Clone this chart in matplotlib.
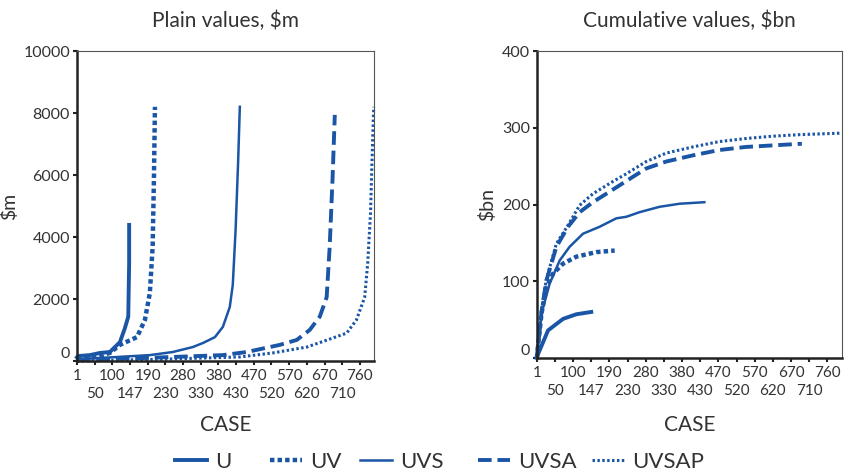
import numpy as np
import matplotlib
matplotlib.use("Agg")
import matplotlib.pyplot as plt
from matplotlib.lines import Line2D

plt.rcParams['font.family'] = ['Lato', 'DejaVu Sans']

BLUE = '#1a56a5'
TEXT = '#333333'

# x positions are in tick-slot units (0 = case 1, 1 = case 50, ...)
case_labels = ['1', '50', '100', '147', '190', '230', '280', '330', '380',
               '430', '470', '520', '570', '620', '670', '710', '760']

# Plain values, $m
u_plain_x = [0, 0.07, 0.73, 1.3, 1.86, 2.43, 2.71, 2.9, 2.95, 2.95]
u_plain_y = [120, 160, 190, 260, 290, 610, 1060, 1430, 3150, 4390]
uv_plain_x = [0, 1.0, 1.86, 2.43, 3.39, 3.84, 4.12, 4.28, 4.35, 4.41]
uv_plain_y = [60, 120, 260, 520, 770, 1320, 2190, 3690, 5840, 8200]
uvs_plain_x = [0, 2.0, 4.12, 5.42, 6.55, 7.12, 7.8, 8.25, 8.64, 8.81, 8.97, 9.11, 9.21]
uvs_plain_y = [60, 120, 190, 290, 450, 580, 770, 1100, 1740, 2450, 4230, 6380, 8200]
uvsa_plain_x = [0, 3.0, 5.42, 8.25, 9.6, 11.47, 12.43, 13.16, 13.73, 14.12, 14.29, 14.45, 14.58]
uvsa_plain_y = [30, 80, 130, 190, 290, 520, 680, 1000, 1430, 2060, 3680, 5840, 7940]
uvsap_plain_x = [0, 5.0, 9.21, 11.07, 13.0, 14.46, 15.25, 15.8, 16.27, 16.44, 16.6, 16.68, 16.78]
uvsap_plain_y = [0, 60, 130, 260, 450, 740, 900, 1320, 2060, 3150, 4770, 6380, 8200]

# Cumulative values, $bn
u_cum_x = [0, 0.07, 0.62, 1.45, 2.18, 3.0]
u_cum_y = [0, 5, 36, 51, 57, 60]
uv_cum_x = [0, 0.26, 0.53, 0.9, 1.45, 2.18, 3.28, 4.29]
uv_cum_y = [0, 58, 92, 110, 123, 132, 138, 140]
uvs_cum_x = [0, 0.26, 0.71, 1.26, 1.81, 2.55, 3.46, 4.38, 4.93, 5.66, 6.76, 7.86, 9.23]
uvs_cum_y = [0, 58, 97, 127, 145, 162, 171, 182, 184, 190, 197, 201, 203]
uvsa_cum_x = [0, 0.26, 0.53, 1.08, 1.72, 2.36, 3.09, 3.83, 4.56, 5.29, 6.03, 7.13, 8.59,
              10.05, 11.52, 12.98, 14.45, 14.6]
uvsa_cum_y = [0, 60, 101, 145, 171, 190, 203, 214, 225, 236, 247, 256, 264,
              271, 275, 277, 279, 279]
uvsap_cum_x = [0, 0.26, 0.53, 1.08, 1.72, 2.36, 3.09, 4.19, 4.93, 6.03, 7.13, 8.59,
               10.05, 11.52, 12.98, 14.45, 16.78]
uvsap_cum_y = [0, 62, 103, 149, 173, 199, 214, 230, 240, 256, 267, 275,
               282, 286, 289, 291, 293]

series_names = ['U', 'UV', 'UVS', 'UVSA', 'UVSAP']
styles = {
    'U': dict(lw=2.8, ls='-'),
    'UV': dict(lw=3.2, ls=(0, (1.0, 0.7))),
    'UVS': dict(lw=1.8, ls='-'),
    'UVSA': dict(lw=2.8, ls=(0, (3.5, 1.5))),
    'UVSAP': dict(lw=2.2, ls=(0, (0.8, 0.8))),
}

fig = plt.figure(figsize=(8.44, 4.75), dpi=100)
ax1 = fig.add_axes([0.0912, 0.24, 0.352, 0.6526])
ax2 = fig.add_axes([0.636, 0.2463, 0.3614, 0.6463])

plain = [(u_plain_x, u_plain_y), (uv_plain_x, uv_plain_y), (uvs_plain_x, uvs_plain_y),
         (uvsa_plain_x, uvsa_plain_y), (uvsap_plain_x, uvsap_plain_y)]
cum = [(u_cum_x, u_cum_y), (uv_cum_x, uv_cum_y), (uvs_cum_x, uvs_cum_y),
       (uvsa_cum_x, uvsa_cum_y), (uvsap_cum_x, uvsap_cum_y)]

for name, (x, y) in zip(series_names, plain):
    ax1.plot(x, y, color=BLUE, clip_on=False, **styles[name])
for name, (x, y) in zip(series_names, cum):
    ax2.plot(x, y, color=BLUE, clip_on=False, **styles[name])

top_pos = list(range(0, len(case_labels), 2))
bot_pos = list(range(1, len(case_labels), 2))

for ax, title, ylab, ylim, yticks, xpad in [
        (ax1, 'Plain values, $m', '$m', 10000, np.arange(0, 10001, 2000), 10),
        (ax2, 'Cumulative values, $bn', '$bn', 400, np.arange(0, 401, 100), 12)]:
    ax.set_xlim(0, 16.8)
    ax.set_ylim(0, ylim)
    # staggered category labels: even slots on the first row, odd slots below
    ax.set_xticks(top_pos)
    ax.set_xticklabels([case_labels[i] for i in top_pos], fontsize=11, color=TEXT)
    ax.set_xticks(bot_pos, minor=True)
    ax.set_xticklabels([case_labels[i] for i in bot_pos], minor=True, fontsize=11, color=TEXT)
    ax.set_yticks(yticks)
    ax.set_yticklabels([str(v) for v in yticks], fontsize=11.5, color=TEXT)
    ax.get_yticklabels()[0].set_va('bottom')
    ax.tick_params(axis='x', which='both', length=3, width=1.5, color='#222222')
    ax.tick_params(axis='x', which='major', pad=3)
    ax.tick_params(axis='x', which='minor', pad=16)
    ax.tick_params(axis='y', length=3, width=1.5, color='#222222', pad=2)
    ax.set_title(title.replace('$', r'\$'), fontsize=15, color=TEXT, pad=17)
    ax.set_ylabel(ylab.replace('$', r'\$'), fontsize=14, color=TEXT, labelpad=4)
    ax.set_xlabel('CASE', fontsize=15, color=TEXT, labelpad=xpad)
    ax.spines['left'].set_linewidth(1.8)
    ax.spines['bottom'].set_linewidth(1.8)
    ax.spines['left'].set_color('#222222')
    ax.spines['bottom'].set_color('#222222')
    ax.spines['top'].set_linewidth(0.8)
    ax.spines['right'].set_linewidth(0.8)
    ax.spines['top'].set_color('#555555')
    ax.spines['right'].set_color('#555555')

# legend entries placed one by one (uneven spacing as in the original)
legend_x = [175, 270, 360, 478, 592]
for name, x0 in zip(series_names, legend_x):
    h = Line2D([0], [0], color=BLUE, **styles[name])
    fig.legend([h], [name], loc='center left', bbox_to_anchor=(x0 / 844, 0.027),
               frameon=False, fontsize=16, handlelength=1.45, handletextpad=0.35,
               borderpad=0, borderaxespad=0, labelcolor=TEXT)

fig.savefig('out.png', dpi=100)
